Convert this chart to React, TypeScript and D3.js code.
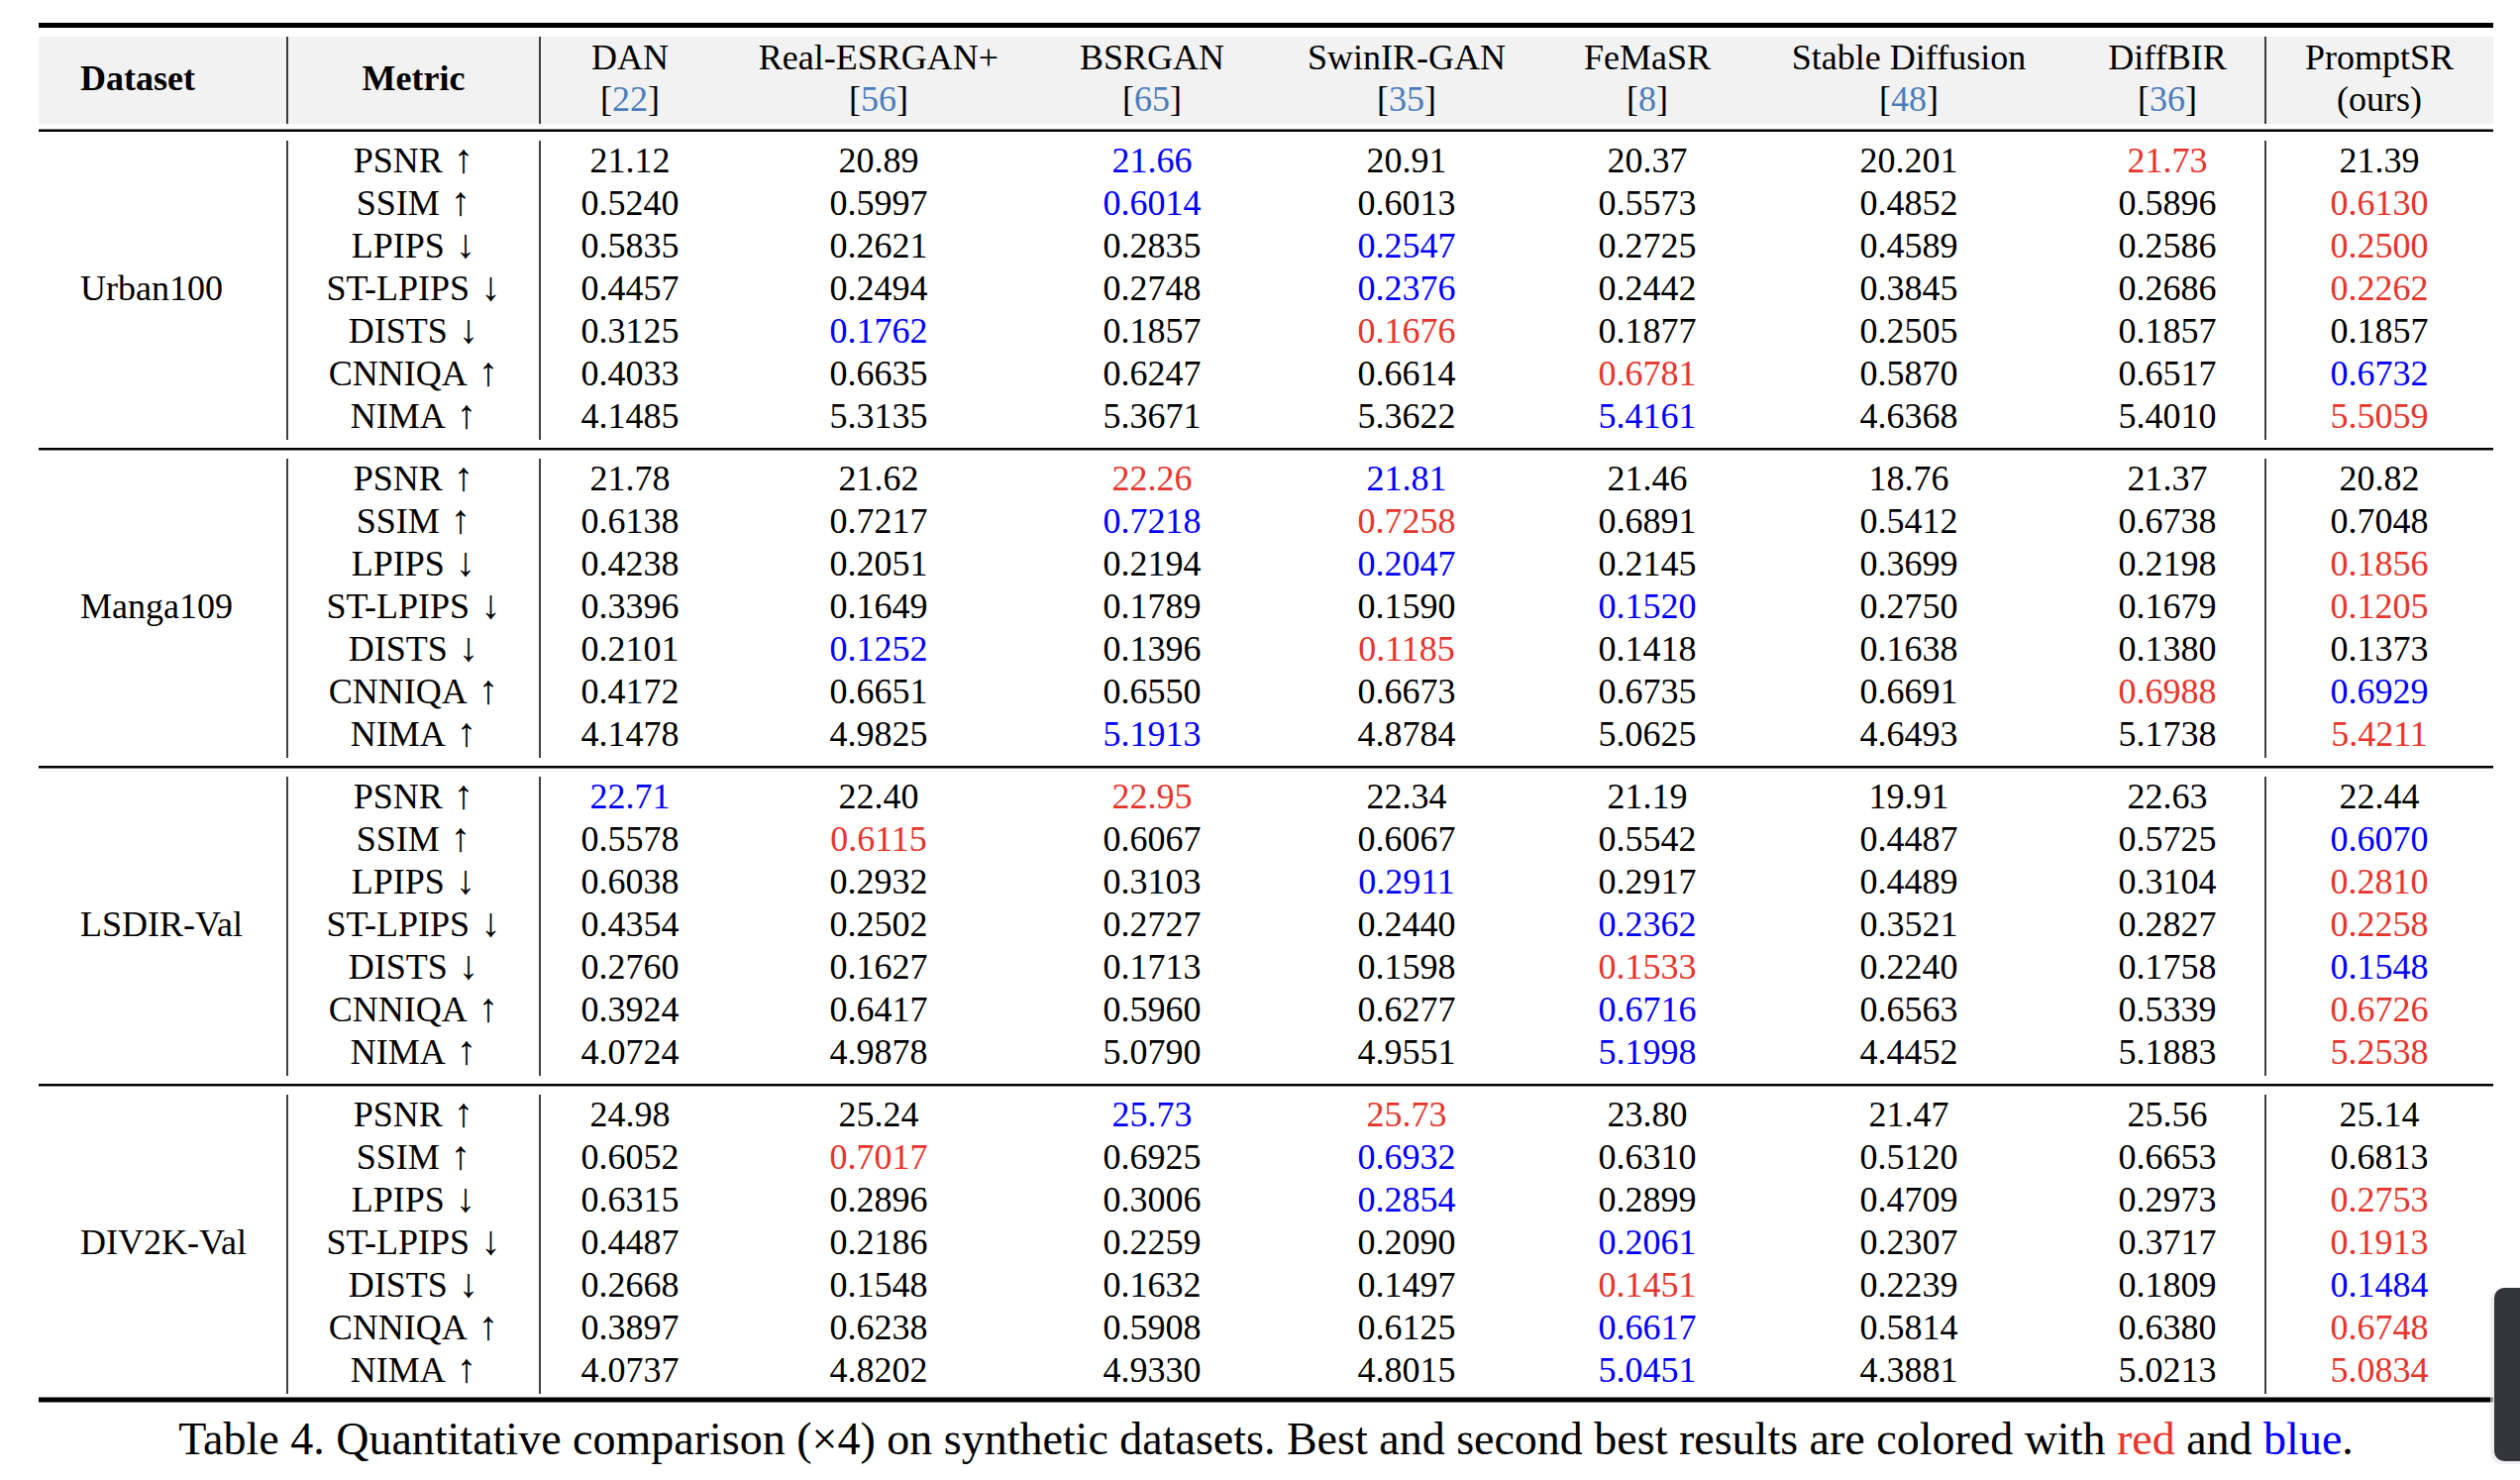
import React, { useEffect } from "react";
import * as d3 from "d3";

// ---------- data ----------
const methods = ["DAN", "Real-ESRGAN+", "BSRGAN", "SwinIR-GAN", "FeMaSR", "Stable Diffusion", "DiffBIR", "PromptSR"];
const citations = ["22", "56", "65", "35", "8", "48", "36", "(ours)"];
const datasets = ["Urban100", "Manga109", "LSDIR-Val", "DIV2K-Val"];
const metrics = ["PSNR ↑", "SSIM ↑", "LPIPS ↓", "ST-LPIPS ↓", "DISTS ↓", "CNNIQA ↑", "NIMA ↑"];

const urban100Values = [
  ["21.12", "20.89", "21.66", "20.91", "20.37", "20.201", "21.73", "21.39"],
  ["0.5240", "0.5997", "0.6014", "0.6013", "0.5573", "0.4852", "0.5896", "0.6130"],
  ["0.5835", "0.2621", "0.2835", "0.2547", "0.2725", "0.4589", "0.2586", "0.2500"],
  ["0.4457", "0.2494", "0.2748", "0.2376", "0.2442", "0.3845", "0.2686", "0.2262"],
  ["0.3125", "0.1762", "0.1857", "0.1676", "0.1877", "0.2505", "0.1857", "0.1857"],
  ["0.4033", "0.6635", "0.6247", "0.6614", "0.6781", "0.5870", "0.6517", "0.6732"],
  ["4.1485", "5.3135", "5.3671", "5.3622", "5.4161", "4.6368", "5.4010", "5.5059"],
];
const urban100Ranks = [
  "..b...r.", "..b....r", "...b...r", "...b...r", ".b.r....", "....r..b", "....b..r",
];

const manga109Values = [
  ["21.78", "21.62", "22.26", "21.81", "21.46", "18.76", "21.37", "20.82"],
  ["0.6138", "0.7217", "0.7218", "0.7258", "0.6891", "0.5412", "0.6738", "0.7048"],
  ["0.4238", "0.2051", "0.2194", "0.2047", "0.2145", "0.3699", "0.2198", "0.1856"],
  ["0.3396", "0.1649", "0.1789", "0.1590", "0.1520", "0.2750", "0.1679", "0.1205"],
  ["0.2101", "0.1252", "0.1396", "0.1185", "0.1418", "0.1638", "0.1380", "0.1373"],
  ["0.4172", "0.6651", "0.6550", "0.6673", "0.6735", "0.6691", "0.6988", "0.6929"],
  ["4.1478", "4.9825", "5.1913", "4.8784", "5.0625", "4.6493", "5.1738", "5.4211"],
];
const manga109Ranks = [
  "..rb....", "..br....", "...b...r", "....b..r", ".b.r....", "......rb", "..b....r",
];

const lsdirValues = [
  ["22.71", "22.40", "22.95", "22.34", "21.19", "19.91", "22.63", "22.44"],
  ["0.5578", "0.6115", "0.6067", "0.6067", "0.5542", "0.4487", "0.5725", "0.6070"],
  ["0.6038", "0.2932", "0.3103", "0.2911", "0.2917", "0.4489", "0.3104", "0.2810"],
  ["0.4354", "0.2502", "0.2727", "0.2440", "0.2362", "0.3521", "0.2827", "0.2258"],
  ["0.2760", "0.1627", "0.1713", "0.1598", "0.1533", "0.2240", "0.1758", "0.1548"],
  ["0.3924", "0.6417", "0.5960", "0.6277", "0.6716", "0.6563", "0.5339", "0.6726"],
  ["4.0724", "4.9878", "5.0790", "4.9551", "5.1998", "4.4452", "5.1883", "5.2538"],
];
const lsdirRanks = [
  "b.r.....", ".r.....b", "...b...r", "....b..r", "....r..b", "....b..r", "....b..r",
];

const div2kValues = [
  ["24.98", "25.24", "25.73", "25.73", "23.80", "21.47", "25.56", "25.14"],
  ["0.6052", "0.7017", "0.6925", "0.6932", "0.6310", "0.5120", "0.6653", "0.6813"],
  ["0.6315", "0.2896", "0.3006", "0.2854", "0.2899", "0.4709", "0.2973", "0.2753"],
  ["0.4487", "0.2186", "0.2259", "0.2090", "0.2061", "0.2307", "0.3717", "0.1913"],
  ["0.2668", "0.1548", "0.1632", "0.1497", "0.1451", "0.2239", "0.1809", "0.1484"],
  ["0.3897", "0.6238", "0.5908", "0.6125", "0.6617", "0.5814", "0.6380", "0.6748"],
  ["4.0737", "4.8202", "4.9330", "4.8015", "5.0451", "4.3881", "5.0213", "5.0834"],
];
const div2kRanks = [
  "..br....", ".r.b....", "...b...r", "....b..r", "....r..b", "....b..r", "....b..r",
];

const tableValues = [urban100Values, manga109Values, lsdirValues, div2kValues];
const tableRanks = [urban100Ranks, manga109Ranks, lsdirRanks, div2kRanks];

const captionParts = [
  { text: "Table 4. Quantitative comparison (×4) on synthetic datasets. Best and second best results are colored with ", kind: "." },
  { text: "red", kind: "r" },
  { text: " and ", kind: "." },
  { text: "blue", kind: "b" },
  { text: ".", kind: "." },
];

// ---------- layout / style ----------
const W = 2544;
const H = 1494;
const FONT = "'Liberation Serif', 'Times New Roman', Times, serif";
const RED = "#e8352b";
const BLUE = "#0000ff";
const CITE = "#4a7dbd";
const colKeys = ["Dataset", "Metric", ...methods];
const colWidths = [251, 255, 182, 320, 232, 282, 204, 324, 198, 230];
const tableLeft = 39;
const datasetLabelX = 81;
const headerTop = 37;
const headerBottom = 125;
const headerRuleY = 132;
const groupHeight = 321;
const rowFirst = 29;
const rowPitch = 43;
const fs = 36;
const arrowFs = 41;
const captionFs = 46;

export default function App() {
  useEffect(() => {
    document.body.style.margin = "0";
  }, []);

  const edges = [tableLeft, ...Array.from(d3.cumsum(colWidths), (c) => tableLeft + c)];
  const tableRight = edges[edges.length - 1];
  const xCenter = d3
    .scaleOrdinal<string, number>()
    .domain(colKeys)
    .range(colKeys.map((_, i) => (edges[i] + edges[i + 1]) / 2));

  const yGroup = d3
    .scaleBand<string>()
    .domain(datasets)
    .range([headerRuleY, headerRuleY + groupHeight * datasets.length])
    .padding(0);
  const yRow = d3
    .scalePoint<string>()
    .domain(metrics)
    .range([rowFirst, rowFirst + rowPitch * (metrics.length - 1)]);

  const colorOf = (k: string) => (k === "r" ? RED : k === "b" ? BLUE : "#000");
  const vLines = [edges[1], edges[2], edges[9]];
  const bottomRuleY = headerRuleY + groupHeight * datasets.length - 3;

  return (
    <svg
      width={W}
      height={H}
      style={{ position: "absolute", left: 0, top: 0, background: "#fff" }}
      fontFamily={FONT}
    >
      <rect x={0} y={0} width={W} height={H} fill="#fff" />
      {/* header band */}
      <rect x={tableLeft} y={headerTop} width={tableRight - tableLeft} height={headerBottom - headerTop} fill="#f2f2f2" />
      {/* top rule */}
      <rect x={tableLeft} y={23} width={tableRight - tableLeft} height={5} fill="#000" />
      {/* header rule */}
      <rect x={tableLeft} y={headerRuleY - 1.5} width={tableRight - tableLeft} height={2.5} fill="#000" />
      {/* header vertical lines */}
      {vLines.map((x, i) => (
        <line key={"hv" + i} x1={x} x2={x} y1={headerTop} y2={headerBottom} stroke="#000" strokeWidth={1.5} />
      ))}
      {/* header text */}
      <text x={datasetLabelX} y={78} dy="0.35em" textAnchor="start" fontSize={fs} fontWeight="bold">Dataset</text>
      <text x={xCenter("Metric")} y={78} dy="0.35em" textAnchor="middle" fontSize={fs} fontWeight="bold">Metric</text>
      {methods.map((m, i) => (
        <g key={"h" + m}>
          <text x={xCenter(m)} y={57} dy="0.35em" textAnchor="middle" fontSize={fs}>{m}</text>
          <text x={xCenter(m)} y={99} dy="0.35em" textAnchor="middle" fontSize={fs}>
            {citations[i].startsWith("(") ? (
              citations[i]
            ) : (
              <>
                [<tspan fill={CITE}>{citations[i]}</tspan>]
              </>
            )}
          </text>
        </g>
      ))}

      {/* body */}
      {datasets.map((ds, g) => {
        const gy = yGroup(ds)!;
        return (
          <g key={ds}>
            {g > 0 && (
              <rect x={tableLeft} y={gy - 1} width={tableRight - tableLeft} height={2.5} fill="#000" />
            )}
            {vLines.map((x, i) => (
              <line
                key={"bv" + i}
                x1={x}
                x2={x}
                y1={gy + 10}
                y2={gy + groupHeight - 9}
                stroke="#000"
                strokeWidth={1.5}
              />
            ))}
            <text x={datasetLabelX} y={gy + yRow(metrics[3])!} dy="0.35em" textAnchor="start" fontSize={fs}>
              {ds}
            </text>
            {metrics.map((met, r) => {
              const cut = met.lastIndexOf(" ");
              return (
                <g key={met}>
                  <text x={xCenter("Metric")} y={gy + yRow(met)!} dy="0.35em" textAnchor="middle" fontSize={fs}>
                    {met.slice(0, cut)}
                    <tspan fontSize={arrowFs} dx={11}>{met.slice(cut + 1)}</tspan>
                  </text>
                  {methods.map((m, c) => (
                    <text
                      key={m}
                      x={xCenter(m)}
                      y={gy + yRow(met)!}
                      dy="0.35em"
                      textAnchor="middle"
                      fontSize={fs}
                      fill={colorOf(tableRanks[g][r][c])}
                    >
                      {tableValues[g][r][c]}
                    </text>
                  ))}
                </g>
              );
            })}
          </g>
        );
      })}

      {/* bottom rule */}
      <rect x={tableLeft} y={bottomRuleY - 2.5} width={tableRight - tableLeft} height={5} fill="#000" />

      {/* caption */}
      <text x={(tableLeft + tableRight) / 2} y={1468} textAnchor="middle" fontSize={captionFs}>
        {captionParts.map((p, i) => (
          <tspan key={i} fill={colorOf(p.kind)}>{p.text}</tspan>
        ))}
      </text>

      {/* overlay widget at right edge */}
      <rect x={2514} y={1302} width={60} height={176} rx={12} fill="#e6e6e6" opacity={0.6} />
      <rect x={2518} y={1300} width={60} height={175} rx={10} fill="#35363a" />
    </svg>
  );
}
